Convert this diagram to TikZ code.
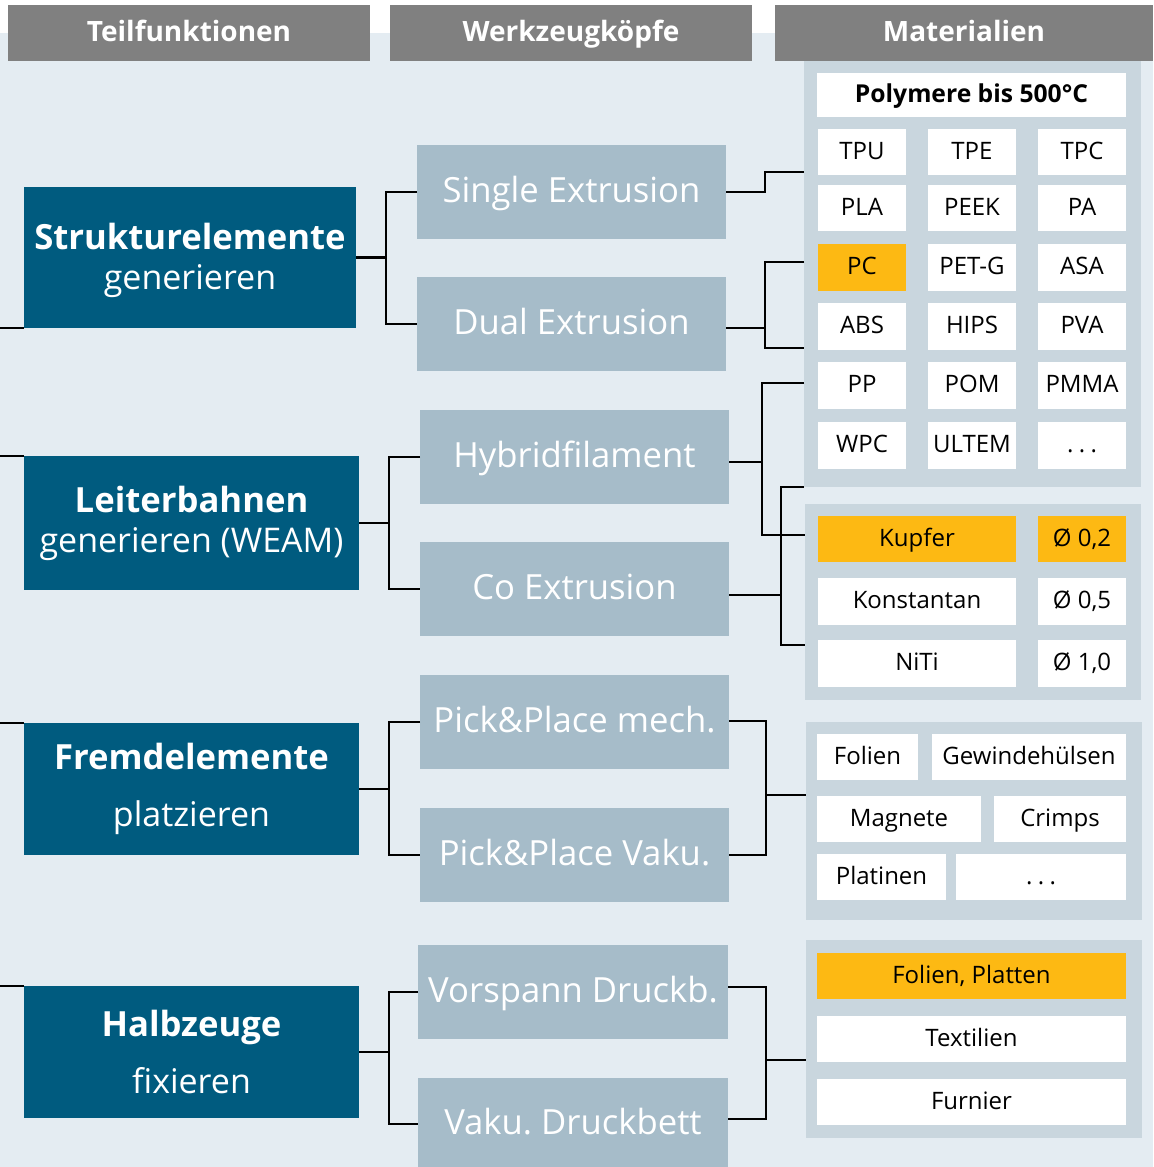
\documentclass[tikz,border=0pt]{standalone}
\usepackage{fontspec}
\setmainfont{Open Sans}
\frenchspacing
\definecolor{bg}{HTML}{E4ECF2}
\definecolor{hdr}{HTML}{808080}
\definecolor{dblue}{HTML}{005B7F}
\definecolor{tool}{HTML}{A6BCC9}
\definecolor{panel}{HTML}{C9D6DE}
\definecolor{orng}{HTML}{FDB913}
\newcommand\fs[2][]{\fontsize{#2pt}{\ifx\relax#1\relax#2pt\else#1pt\fi}\selectfont}
\newcommand\bx[7]{\node[#1, minimum width={(#5-#3)*0.75pt}, minimum height={(#6-#4)*0.75pt}] (#2) at ({(#3+#5)/2},{(#4+#6)/2}) {#7};}
\newcommand\ddd{.\hspace{4pt}.\hspace{4pt}.}
\begin{document}
\begin{tikzpicture}[x=0.75pt,y=-0.75pt,
  base/.style={inner sep=0pt, outer sep=0pt, rectangle, align=center},
  hdrbox/.style={base, text height=14.9pt, text depth=2.1pt, fill=hdr, text=white, font=\fs{21}\bfseries},
  mainbox/.style={base, fill=dblue, text=white},
  mainA/.style={mainbox, font=\fs[30]{25.5}},
  mainB/.style={mainbox, font=\fs[43]{25.5}},
  toolbox/.style={base, text height=18.5pt, text depth=2.6pt, fill=tool, text=white, font=\fs{26}},
  panelbox/.style={base, fill=panel},
  cell/.style={base, text height=12.8pt, text depth=1.8pt, fill=white, text=black, font=\fs{18}},
  ocell/.style={cell, fill=orng},
  conn/.style={draw=black, line width=2.2pt}]
\useasboundingbox (0,0) rectangle (1153,1167);
\fill[white] (0,0) rectangle (1153,1167);
\fill[bg] (0,33) rectangle (1153,1167);
% headers
\bx{hdrbox}{h1}{8}{5}{370}{61}{Teilfunktionen}
\bx{hdrbox}{h2}{390}{5}{752}{61}{Werkzeugköpfe}
\bx{hdrbox}{h3}{775}{5}{1153}{61}{Materialien}
% main boxes
\bx{mainA}{str}{24}{187}{356}{328}{{\bfseries\fontsize{26pt}{30pt}\selectfont\rule{0pt}{24pt}Strukturelemente}\\generieren}
\bx{mainA}{lei}{24}{456}{359}{590}{{\bfseries\fontsize{26pt}{30pt}\selectfont Leiterbahnen}\\generieren (WEAM)}
\bx{mainB}{fre}{24}{723}{359}{855}{{\bfseries\fontsize{26pt}{43pt}\selectfont Fremdelemente}\\platzieren}
\bx{mainB}{hal}{24}{986}{359}{1118}{{\bfseries\fontsize{26pt}{43pt}\selectfont Halbzeuge}\\fixieren}
% tool boxes
\bx{toolbox}{se}{417}{145}{726}{239}{Single Extrusion}
\bx{toolbox}{de}{417}{277}{726}{371}{Dual Extrusion}
\bx{toolbox}{hy}{420}{410}{729}{504}{Hybridfilament}
\bx{toolbox}{ce}{420}{542}{729}{636}{Co Extrusion}
\bx{toolbox}{pm}{420}{675}{729}{769}{Pick\&Place mech.}
\bx{toolbox}{pv}{420}{808}{729}{902}{Pick\&Place Vaku.}
\bx{toolbox}{vd}{418}{945}{728}{1039}{Vorspann Druckb.}
\bx{toolbox}{vk}{418}{1078}{728}{1170}{Vaku. Druckbett}
% panels
\bx{panelbox}{pp}{804}{61}{1141}{487}{}
\bx{panelbox}{pw}{805}{504}{1141}{700}{}
\bx{panelbox}{pf}{806}{722}{1142}{920}{}
\bx{panelbox}{ph}{806}{940}{1142}{1138}{}
% polymer cells
\bx{cell}{poly}{817}{73}{1126}{117}{\bfseries\fontsize{18.5pt}{18.5pt}\selectfont Polymere bis 500°C}
\bx{cell}{c11}{818}{129}{906}{175}{TPU}
\bx{cell}{c12}{928}{129}{1016}{175}{TPE}
\bx{cell}{c13}{1038}{129}{1126}{175}{TPC}
\bx{cell}{c21}{818}{185}{906}{231}{PLA}
\bx{cell}{c22}{928}{185}{1016}{231}{PEEK}
\bx{cell}{c23}{1038}{185}{1126}{231}{PA}
\bx{ocell}{c31}{818}{244}{906}{291}{PC}
\bx{cell}{c32}{928}{244}{1016}{291}{PET-G}
\bx{cell}{c33}{1038}{244}{1126}{291}{ASA}
\bx{cell}{c41}{818}{303}{906}{350}{ABS}
\bx{cell}{c42}{928}{303}{1016}{350}{HIPS}
\bx{cell}{c43}{1038}{303}{1126}{350}{PVA}
\bx{cell}{c51}{818}{362}{906}{409}{PP}
\bx{cell}{c52}{928}{362}{1016}{409}{POM}
\bx{cell}{c53}{1038}{362}{1126}{409}{PMMA}
\bx{cell}{c61}{818}{422}{906}{469}{WPC}
\bx{cell}{c62}{928}{422}{1016}{469}{ULTEM}
\bx{cell}{c63}{1038}{422}{1126}{469}{\ddd}
% wire cells
\bx{ocell}{w11}{818}{516}{1016}{562}{Kupfer}
\bx{ocell}{w12}{1038}{516}{1126}{562}{Ø 0,2}
\bx{cell}{w21}{818}{578}{1016}{625}{Konstantan}
\bx{cell}{w22}{1038}{578}{1126}{625}{Ø 0,5}
\bx{cell}{w31}{818}{640}{1016}{687}{NiTi}
\bx{cell}{w32}{1038}{640}{1126}{687}{Ø 1,0}
% foreign elements
\bx{cell}{f11}{817}{734}{918}{780}{Folien}
\bx{cell}{f12}{932}{734}{1126}{780}{Gewindehülsen}
\bx{cell}{f21}{817}{796}{981}{842}{Magnete}
\bx{cell}{f22}{994}{796}{1126}{842}{Crimps}
\bx{cell}{f31}{817}{854}{946}{900}{Platinen}
\bx{cell}{f32}{956}{854}{1126}{900}{\ddd}
% semi-finished
\bx{ocell}{s1}{817}{953}{1126}{999}{Folien, Platten}
\bx{cell}{s2}{817}{1016}{1126}{1062}{Textilien}
\bx{cell}{s3}{817}{1079}{1126}{1125}{Furnier}
% left stubs
\draw[conn] (str.south west) -- (str.south west -| 0,0);
\draw[conn] (lei.north west) -- (lei.north west -| 0,0);
\draw[conn] (fre.north west) -- (fre.north west -| 0,0);
\draw[conn] (hal.north west) -- (hal.north west -| 0,0);
% main to tools
\draw[conn] (str.east) -- ++(30,0) coordinate (j1);
\draw[conn] (se.west) -| (j1) |- (de.west);
\draw[conn] (lei.east) -- ++(30,0) coordinate (j2);
\draw[conn] (hy.west) -| (j2) |- (ce.west);
\draw[conn] (fre.east) -- ++(30,0) coordinate (j3);
\draw[conn] (pm.west) -| (j3) |- (pv.west);
\draw[conn] (hal.east) -- ++(30,0) coordinate (j4);
\draw[conn] (vd.west) -| (j4) |- (vk.west);
% tools to materials
\draw[conn] (se.east) -- ++(39,0) |- (pp.west |- 0,172);
\draw[conn] (de.east |- 0,328) -- (765,328);
\draw[conn] (pp.west |- 0,262) -| (765,348) -- (pp.west |- 0,348);
\draw[conn] (hy.east |- 0,462) -- (762,462);
\draw[conn] (pp.west |- 0,383) -| (762,535) -- (pw.west |- 0,535);
\draw[conn] (ce.east |- 0,595) -- (781,595);
\draw[conn] (pp.west |- 0,487) -| (781,645) -- (pw.west |- 0,645);
\draw[conn] (pm.east |- 0,721) -| (766,855) -- (pv.east |- 0,855);
\draw[conn] (766,795) -- (pf.west |- 0,795);
\draw[conn] (vd.east |- 0,987) -| (766,1119) -- (vk.east |- 0,1119);
\draw[conn] (766,1060) -- (ph.west |- 0,1060);
\end{tikzpicture}
\end{document}
